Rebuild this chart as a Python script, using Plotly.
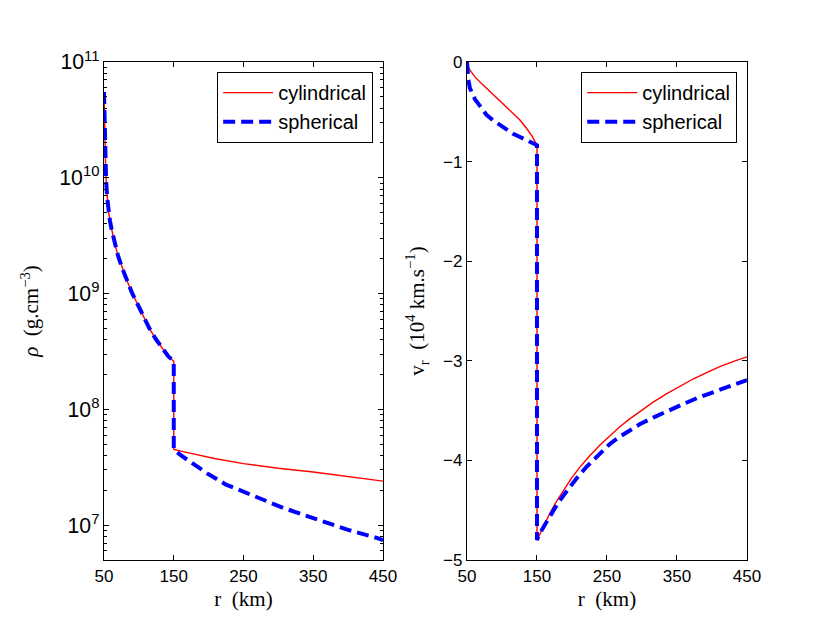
"""Perfis de densidade e velocidade radial: comparacao cilindrico x esferico"""

import plotly.graph_objects as go

# densidade (g/cm^3) - parte interna, igual nos dois casos
r_rho_in = [50, 50.3, 50.7, 51.4, 52.2, 53, 54.5, 56.2, 58.5, 61, 65, 70, 76, 83, 90, 98,
            106, 115, 124, 133, 142, 150]
rho_in = [5.5e10, 4.17e10, 3.02e10, 2.0e10, 1.32e10, 9.55e9, 6.76e9, 5.25e9, 4.27e9, 3.55e9,
          2.75e9, 2.14e9, 1.66e9, 1.29e9, 1.02e9, 8.13e8, 6.46e8, 5.01e8, 4.07e8, 3.39e8,
          2.88e8, 2.6e8]

# densidade depois do choque
r_rho_cyl_out = [150, 165, 185, 210, 250, 300, 350, 400, 450]
rho_cyl_out = [4.5e7, 4.3e7, 4.05e7, 3.75e7, 3.4e7, 3.1e7, 2.88e7, 2.63e7, 2.4e7]
r_rho_sph_out = [150, 161, 183, 200, 225, 264, 307, 350, 379, 400, 441, 450]
rho_sph_out = [4.5e7, 3.98e7, 3.24e7, 2.75e7, 2.24e7, 1.78e7, 1.41e7, 1.15e7, 1.0e7, 9.12e6,
               7.76e6, 7.41e6]

# velocidade radial (10^4 km/s)
r_v_cyl = [50, 51.4, 55, 61, 70, 77.8, 87, 96.8, 106, 115.9, 125, 135, 143, 150,
           150, 152, 160, 168.4, 177, 187.5, 199, 211, 225, 240, 255, 268.7, 283, 297.3, 316,
           335.5, 354, 373.6, 393, 412, 431, 450]
v_cyl = [0, -0.05, -0.09, -0.147, -0.21, -0.262, -0.32, -0.382, -0.442, -0.51, -0.578, -0.665,
         -0.745, -0.835,
         -4.80, -4.77, -4.65, -4.53, -4.42, -4.30, -4.18, -4.07, -3.955, -3.845, -3.745, -3.66,
         -3.58, -3.505, -3.415, -3.33, -3.255, -3.18, -3.115, -3.055, -3.005, -2.96]
r_v_sph = [50, 50.5, 51, 52, 54, 58, 61.5, 65.8, 71, 77.8, 87, 96.8, 106, 115.9, 125, 135,
           143, 150,
           150, 152, 160, 171, 179, 187.5, 196, 206.6, 220, 240, 254, 268.7, 283, 297.3, 316,
           335.5, 357, 378.5, 397, 416.6, 433, 450]
v_sph = [0, -0.06, -0.11, -0.18, -0.26, -0.33, -0.375, -0.415, -0.47, -0.53, -0.585, -0.63,
         -0.68, -0.72, -0.75, -0.78, -0.81, -0.835,
         -4.80, -4.76, -4.66, -4.53, -4.44, -4.355, -4.275, -4.18, -4.07, -3.925, -3.835, -3.76,
         -3.695, -3.635, -3.57, -3.505, -3.44, -3.375, -3.325, -3.275, -3.235, -3.195]

x_ticks = [50, 150, 250, 350, 450]
v_ticks = [0, -1, -2, -3, -4, -5]

TICK_FONT = dict(family="Liberation Sans, Arial", size=17, color="black")
TITLE_FONT = dict(family="Liberation Serif, Times New Roman", size=21, color="black")
LEG_FONT = dict(family="Liberation Sans, Arial", size=20, color="black")
RED = dict(color="#ff0000", width=1.4)
BLUE = dict(color="#0000ff", width=4, dash="12px,6px")

fig = go.Figure()

fig.add_trace(go.Scatter(x=r_rho_in + r_rho_cyl_out, y=rho_in + rho_cyl_out, mode="lines",
                         line=RED, name="cylindrical", legendgroup="c", xaxis="x", yaxis="y"))
fig.add_trace(go.Scatter(x=r_rho_in + r_rho_sph_out, y=rho_in + rho_sph_out, mode="lines",
                         line=BLUE, name="spherical", legendgroup="s", xaxis="x", yaxis="y"))
fig.add_trace(go.Scatter(x=r_v_cyl, y=v_cyl, mode="lines", line=RED, name="cylindrical",
                         legendgroup="c2", xaxis="x2", yaxis="y2", legend="legend2"))
fig.add_trace(go.Scatter(x=r_v_sph, y=v_sph, mode="lines", line=BLUE, name="spherical",
                         legendgroup="s2", xaxis="x2", yaxis="y2", legend="legend2"))

eixo = dict(showline=True, linecolor="black", linewidth=1.3, mirror="ticks", ticks="inside",
            ticklen=5, tickcolor="black", showgrid=False, zeroline=False, tickfont=TICK_FONT,
            automargin=False)

legenda = dict(y=0.896, xanchor="right", yanchor="top", bordercolor="black", borderwidth=1.2,
               bgcolor="white", tracegroupgap=0, itemwidth=50, font=LEG_FONT)

# a pagina tem margem de 8px no body, por isso a figura e um pouco menor
fig.update_layout(
    width=822, height=615,
    margin=dict(l=0, r=0, t=0, b=0),
    paper_bgcolor="white", plot_bgcolor="white",
    xaxis=dict(eixo, domain=[0.1168, 0.4562], range=[50, 450], tickvals=x_ticks,
               title=dict(text="r  (km)", font=TITLE_FONT, standoff=6), anchor="y"),
    yaxis=dict(eixo, domain=[0.1024, 0.9122], type="log", range=[6.699, 11], dtick=1,
               exponentformat="power", anchor="x",
               minor=dict(dtick="D1", ticks="inside", ticklen=3, tickcolor="black", showgrid=False),
               title=dict(text="<i>ρ</i>  (g.cm<sup>−3</sup>)", font=TITLE_FONT, standoff=14)),
    xaxis2=dict(eixo, domain=[0.5584, 0.8990], range=[50, 450], tickvals=x_ticks, anchor="y2",
                title=dict(text="r  (km)", font=TITLE_FONT, standoff=6)),
    yaxis2=dict(eixo, domain=[0.1024, 0.9122], range=[-5, 0], tickvals=v_ticks, anchor="x2",
                title=dict(text="v<sub>r</sub>  (10<sup>4</sup> km.s<sup>−1</sup>)",
                           font=TITLE_FONT, standoff=12)),
    legend=dict(legenda, x=0.4440),
    legend2=dict(legenda, x=0.8869),
)

fig.write_html("out.html")
